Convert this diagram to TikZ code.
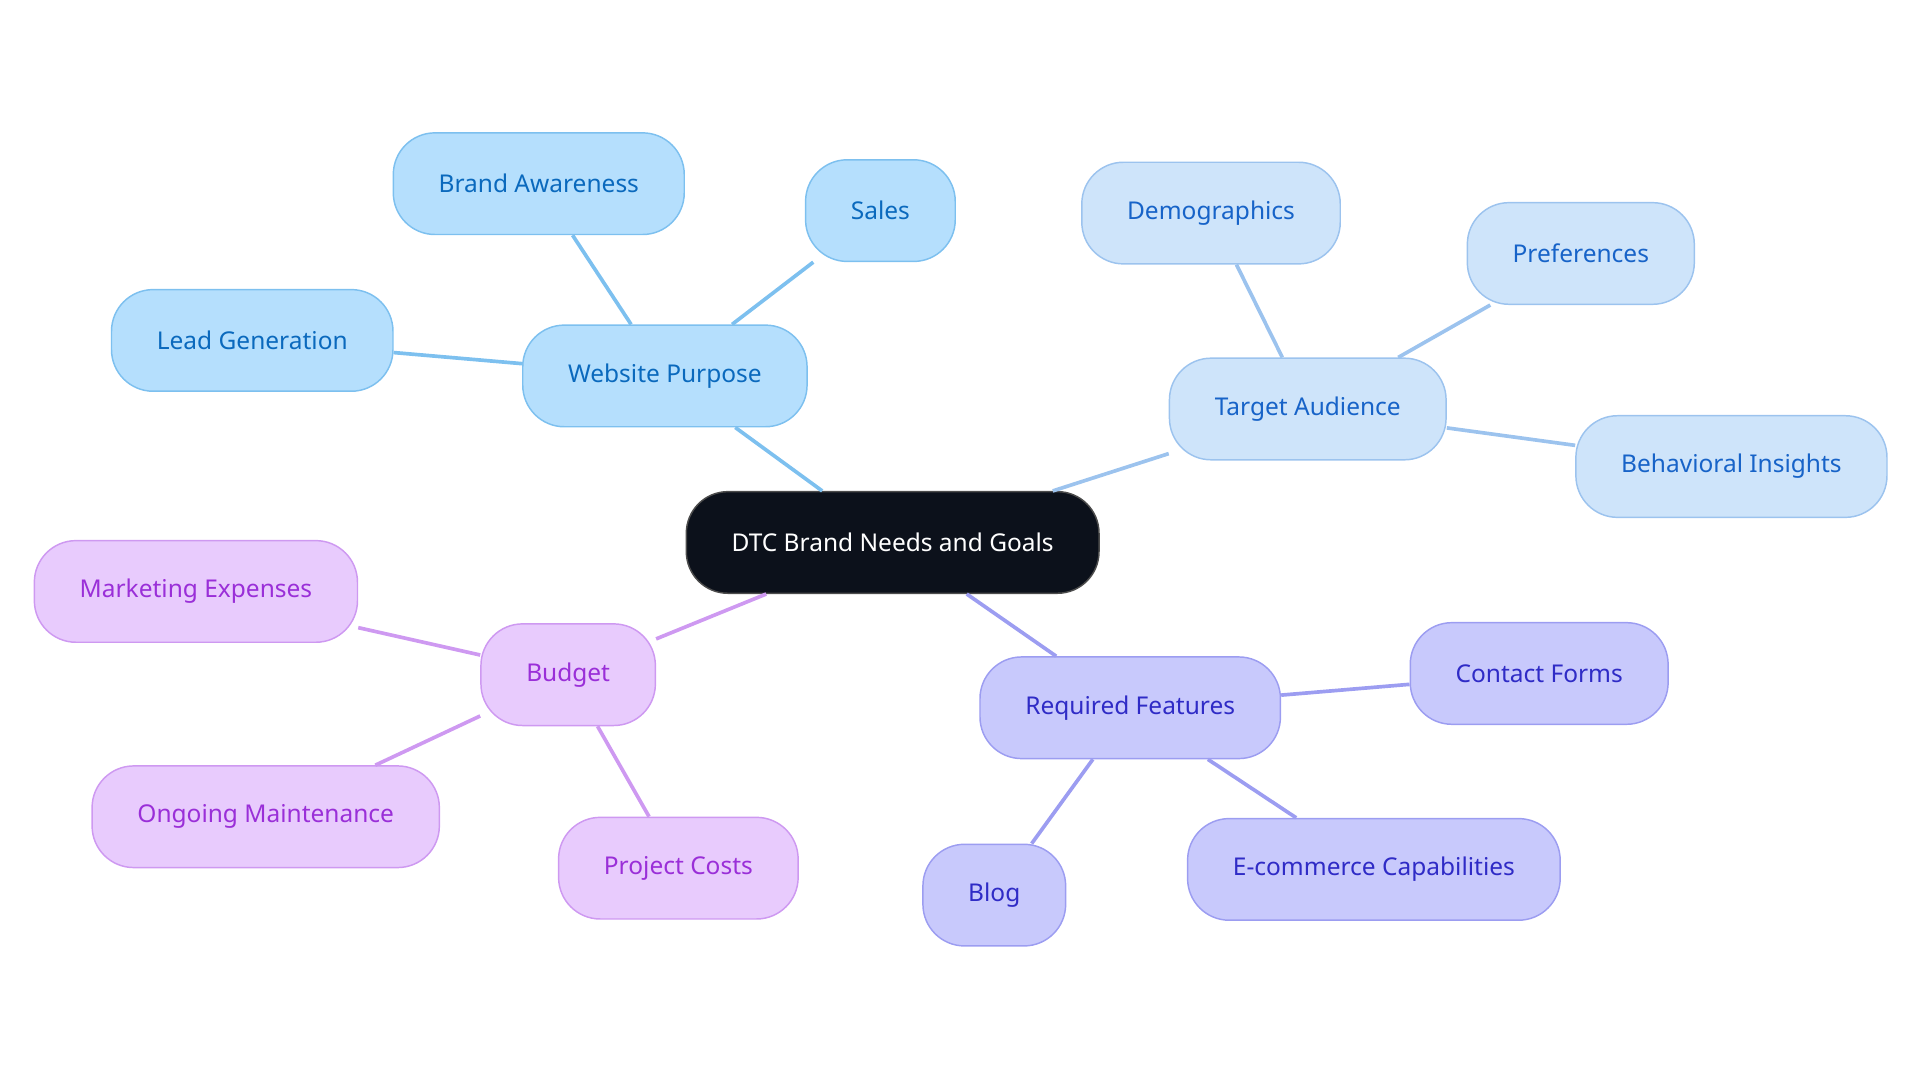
\documentclass[tikz,border=0pt]{standalone}
\usepackage{fontspec}
\setmainfont{Noto Sans}
\usepackage{tikz}

\definecolor{purpfill}{HTML}{B5DFFD}
\definecolor{purpline}{HTML}{7DC0EF}
\definecolor{purptext}{HTML}{0A69BD}
\definecolor{audfill}{HTML}{CEE4FA}
\definecolor{audline}{HTML}{9CC3EE}
\definecolor{audtext}{HTML}{1763C8}
\definecolor{budfill}{HTML}{E8CBFD}
\definecolor{budline}{HTML}{CE99F1}
\definecolor{budtext}{HTML}{9A2FD8}
\definecolor{featfill}{HTML}{C8C9FC}
\definecolor{featline}{HTML}{9C9DF1}
\definecolor{feattext}{HTML}{2F2BC6}
\definecolor{rootfill}{HTML}{0C111B}

\tikzset{
  pill/.style={rounded corners=34pt, minimum height=83pt, inner xsep=37pt, font=\fontsize{20}{24}\selectfont, line width=1.2pt},
  purp/.style={pill, fill=purpfill, draw=purpline, text=purptext},
  aud/.style={pill, fill=audfill, draw=audline, text=audtext},
  bud/.style={pill, fill=budfill, draw=budline, text=budtext},
  feat/.style={pill, fill=featfill, draw=featline, text=feattext},
  root/.style={pill, fill=rootfill, draw=black!70, text=white},
  link/.style={line width=3pt}
}

\begin{document}
\begin{tikzpicture}[x=1pt,y=-1pt]
		\useasboundingbox (0,0) rectangle (1568,884);
		\node[root] (goals) at (729,443) {DTC Brand Needs and Goals};
		
		\node[purp] (purpose) at (543,307) {Website Purpose};
		\node[purp] (awareness) at (440,150) {Brand Awareness};
		\node[purp] (sales) at (719,172) {Sales};
		\node[purp] (leads) at (206,278) {Lead Generation};
		
		\node[aud] (audience) at (1068,334) {Target Audience};
		\node[aud] (demo) at (989,174) {Demographics};
		\node[aud] (prefs) at (1291,207) {Preferences};
		\node[aud] (behave) at (1414,381) {Behavioral Insights};
		
		\node[bud] (budget) at (464,551) {Budget};
		\node[bud] (marketing) at (160,483) {Marketing Expenses};
		\node[bud] (upkeep) at (217,667) {Ongoing Maintenance};
		\node[bud] (costs) at (554,709) {Project Costs};
		
		\node[feat] (features) at (923,578) {Required Features};
		\node[feat] (contact) at (1257,550) {Contact Forms};
		\node[feat] (shop) at (1122,710) {E-commerce Capabilities};
		\node[feat] (blog) at (812,731) {Blog};
		
		\draw[link, purpline] (goals) -- (purpose);
		\foreach \leaf in {awareness,sales,leads}
			\draw[link, purpline] (purpose) -- (\leaf);
		\draw[link, audline] (goals) -- (audience);
		\foreach \leaf in {demo,prefs,behave}
			\draw[link, audline] (audience) -- (\leaf);
		\draw[link, budline] (goals) -- (budget);
		\foreach \leaf in {marketing,upkeep,costs}
			\draw[link, budline] (budget) -- (\leaf);
		\draw[link, featline] (goals) -- (features);
		\foreach \leaf in {contact,shop,blog}
			\draw[link, featline] (features) -- (\leaf);
\end{tikzpicture}
\end{document}
